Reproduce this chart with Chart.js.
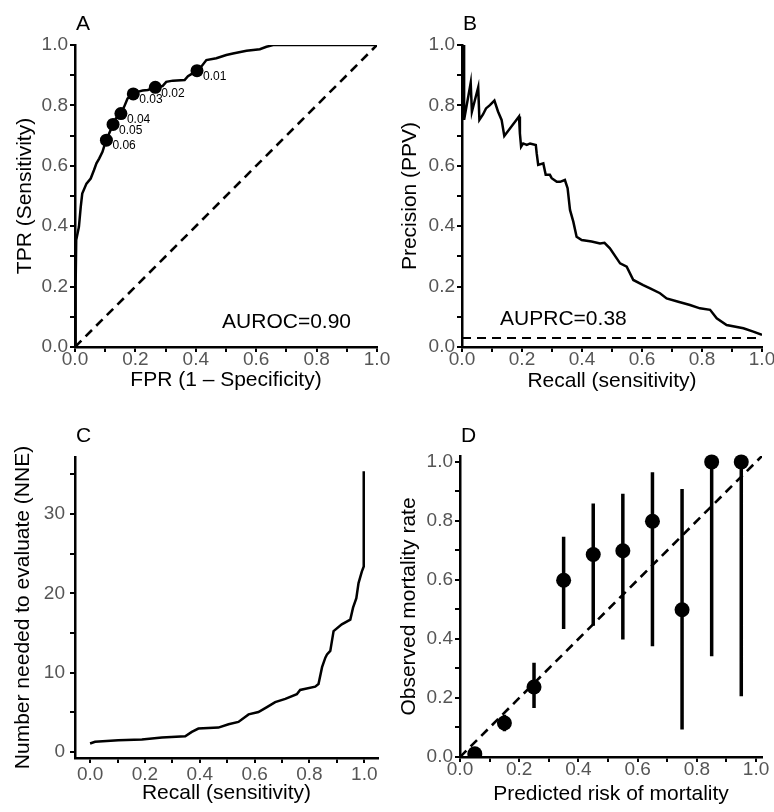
<!DOCTYPE html>
<html>
<head>
<meta charset="utf-8">
<script src="https://cdn.jsdelivr.net/npm/chart.js@4.4.1/dist/chart.umd.min.js"></script>
<style>
  body { margin: 0; background: #fff; }
  #wrap { position: relative; width: 774px; height: 812px; overflow: hidden; }
  canvas { position: absolute; }
</style>
</head>
<body>
<div id="wrap">
  <canvas id="rocChart" width="400" height="400" style="left:0;top:0"></canvas>
  <canvas id="prChart" width="387" height="400" style="left:387px;top:0"></canvas>
  <canvas id="nneChart" width="400" height="412" style="left:0;top:400px"></canvas>
  <canvas id="calChart" width="387" height="412" style="left:387px;top:400px"></canvas>
</div>
<script>
// Panel A - ROC curve
const rocFpr = [0, 0.002, 0.004, 0.013, 0.019, 0.024, 0.038, 0.052, 0.063, 0.071, 0.080, 0.091, 0.096, 0.104,
  0.113, 0.126, 0.135, 0.152, 0.163, 0.174, 0.193, 0.207, 0.224, 0.241, 0.266, 0.290, 0.302, 0.324, 0.363,
  0.374, 0.404, 0.418, 0.435, 0.468, 0.501, 0.523, 0.568, 0.612, 0.634, 0.656, 1.0];
const rocTpr = [0, 0.20, 0.354, 0.398, 0.464, 0.508, 0.541, 0.558, 0.586, 0.608, 0.624, 0.646, 0.663, 0.685,
  0.707, 0.737, 0.757, 0.773, 0.796, 0.823, 0.838, 0.845, 0.849, 0.851, 0.860, 0.864, 0.878, 0.882, 0.884,
  0.897, 0.915, 0.928, 0.950, 0.956, 0.967, 0.972, 0.981, 0.986, 0.994, 1.0, 1.0];
const cutFpr = [0.404, 0.266, 0.193, 0.152, 0.126, 0.104];
const cutTpr = [0.915, 0.860, 0.838, 0.773, 0.737, 0.685];
const cutLabels = ['0.01', '0.02', '0.03', '0.04', '0.05', '0.06'];
const aurocText = 'AUROC=0.90';

// Panel B - precision / recall
const prRecall = [0, 0.007, 0.007, 0.029, 0.033, 0.054, 0.058, 0.070, 0.080, 0.093, 0.108, 0.120, 0.132, 0.141,
  0.190, 0.193, 0.197, 0.204, 0.216, 0.227, 0.246, 0.249, 0.254, 0.271, 0.279, 0.293, 0.299, 0.316, 0.327,
  0.343, 0.352, 0.360, 0.371, 0.382, 0.399, 0.432, 0.460, 0.475, 0.493, 0.527, 0.549, 0.571, 0.604, 0.627,
  0.660, 0.682, 0.721, 0.760, 0.793, 0.827, 0.849, 0.882, 0.938, 0.971, 1.0];
const prPrecision = [1.0, 1.0, 0.752, 0.875, 0.779, 0.860, 0.752, 0.770, 0.790, 0.801, 0.816, 0.780, 0.752, 0.699,
  0.763, 0.707, 0.663, 0.674, 0.669, 0.674, 0.669, 0.641, 0.603, 0.608, 0.570, 0.570, 0.559, 0.547, 0.547,
  0.553, 0.526, 0.454, 0.415, 0.365, 0.354, 0.349, 0.343, 0.345, 0.327, 0.277, 0.266, 0.222, 0.205, 0.194,
  0.178, 0.161, 0.150, 0.139, 0.128, 0.123, 0.095, 0.073, 0.062, 0.051, 0.040];
const prevalence = 0.03;
const auprcText = 'AUPRC=0.38';

// Panel C - number needed to evaluate
const nneRecall = [0, 0.018, 0.103, 0.189, 0.262, 0.347, 0.371, 0.395, 0.468, 0.505, 0.541, 0.578, 0.614, 0.645,
  0.675, 0.712, 0.754, 0.766, 0.821, 0.833, 0.846, 0.858, 0.864, 0.876, 0.888, 0.918, 0.949, 0.959, 0.971,
  0.979, 0.991, 0.998, 0.998];
const nneValue = [1.08, 1.3, 1.5, 1.58, 1.83, 2.0, 2.54, 2.96, 3.08, 3.5, 3.8, 4.75, 5.04, 5.67,
  6.3, 6.7, 7.3, 7.83, 8.25, 8.58, 10.7, 11.9, 12.3, 12.75, 15.25, 16.1, 16.7, 18.2, 19.4,
  21.3, 22.75, 23.4, 35.4];

// Panel D - calibration
const calPred = [0.05, 0.15, 0.25, 0.35, 0.45, 0.55, 0.65, 0.75, 0.85, 0.95];
const calObs = [0.011, 0.115, 0.237, 0.599, 0.686, 0.699, 0.799, 0.499, 1.0, 1.0];
const calLow = [0.0, 0.087, 0.166, 0.434, 0.445, 0.398, 0.375, 0.093, 0.341, 0.206];
const calHigh = [0.03, 0.143, 0.319, 0.746, 0.859, 0.892, 0.965, 0.908, 1.0, 1.0];
const identity = [0, 1.02];

// tick marks and labels
const unitTicks = [0, 0.1, 0.2, 0.3, 0.4, 0.5, 0.6, 0.7, 0.8, 0.9, 1];
const unitLabels = [0, 0.2, 0.4, 0.6, 0.8, 1];
const nneTicks = [0, 5, 10, 15, 20, 25, 30, 35];
const nneLabels = [0, 10, 20, 30];

const FONT = "'Liberation Sans', Arial, Helvetica, sans-serif";
const pts = (xs, ys) => xs.map((x, i) => ({ x: x, y: ys[i] }));

function makeAxis(c) {
  return {
    type: 'linear',
    min: c.min,
    max: c.max,
    afterBuildTicks: s => { s.ticks = c.ticks.map(v => ({ value: v })); },
    afterFit: s => {
      if (c.horizontal) s.height = c.size; else s.width = c.size;
      s.paddingLeft = s.paddingRight = s.paddingTop = s.paddingBottom = 0;
    },
    ticks: {
      autoSkip: false,
      maxRotation: 0,
      padding: c.tickPad,
      color: '#555',
      font: { family: FONT, size: 19, lineHeight: 1 },
      callback: v => c.labels.includes(v) ? v.toFixed(c.digits) : ''
    },
    grid: { drawOnChartArea: false, drawTicks: true, tickLength: 5, color: '#000', lineWidth: 2 },
    border: { display: true, color: '#000', width: 2.5 },
    title: {
      display: !!c.title,
      text: c.title,
      color: '#000',
      font: { family: FONT, size: 21 },
      padding: c.horizontal ? { bottom: c.pad } : { top: c.pad }
    }
  };
}

// letters and in-plot notes
const panelText = {
  id: 'panelText',
  afterDraw(chart, args, o) {
    const ctx = chart.ctx;
    ctx.save();
    ctx.fillStyle = '#000';
    ctx.textBaseline = 'alphabetic';
    ctx.font = '21px ' + FONT;
    ctx.fillText(o.letter, chart.chartArea.left + 1, o.letterY);
    (o.notes || []).forEach(n => {
      ctx.font = n.size + 'px ' + FONT;
      ctx.textBaseline = n.baseline || 'alphabetic';
      ctx.fillText(n.text, chart.scales.x.getPixelForValue(n.x) + (n.dx || 0),
        chart.scales.y.getPixelForValue(n.y) + (n.dy || 0));
    });
    if (o.yTitle) {
      ctx.font = '21px ' + FONT;
      ctx.textAlign = 'center';
      ctx.textBaseline = 'middle';
      ctx.translate(o.yTitleX, (chart.chartArea.top + chart.chartArea.bottom) / 2);
      ctx.rotate(-Math.PI / 2);
      ctx.fillText(o.yTitle, 0, 0);
    }
    ctx.restore();
  }
};

function baseOptions(pad, x, y, text) {
  return {
    responsive: false,
    animation: false,
    layout: { padding: pad },
    scales: { x: x, y: y },
    plugins: { legend: { display: false }, tooltip: { enabled: false }, panelText: text }
  };
}

const lineDs = (data, extra) => Object.assign({
  data: data, showLine: true, pointRadius: 0, borderColor: '#000', borderWidth: 2.5, fill: false
}, extra || {});

// A
new Chart(document.getElementById('rocChart'), {
  type: 'scatter',
  data: {
    datasets: [
      { data: pts(cutFpr, cutTpr), pointRadius: 6.5, backgroundColor: '#000', borderWidth: 0, clip: false },
      lineDs(pts(rocFpr, rocTpr)),
      lineDs(pts([0, 1], [0, 1]), { borderDash: [9, 6], borderWidth: 2.6 })
    ]
  },
  options: baseOptions({ top: 45, right: 23 },
    makeAxis({ min: 0, max: 1, ticks: unitTicks, labels: unitLabels, digits: 1, horizontal: true, size: 53, tickPad: -2, title: 'FPR (1 – Specificity)', pad: 7.4 }),
    makeAxis({ min: 0, max: 1, ticks: unitTicks, labels: unitLabels, digits: 1, size: 75, tickPad: 2, title: 'TPR (Sensitivity)', pad: 12.4 }),
    {
      letter: 'A', letterY: 30,
      notes: cutLabels.map((t, i) => ({ text: t, x: cutFpr[i], y: cutTpr[i], dx: 6, dy: 6, size: 12, baseline: 'middle' }))
        .concat([{ text: aurocText, x: 0.487, y: 0.063, size: 21 }])
    }),
  plugins: [panelText]
});

// B
new Chart(document.getElementById('prChart'), {
  type: 'scatter',
  data: {
    datasets: [
      lineDs(pts(prRecall, prPrecision)),
      lineDs(pts([0, 1], [prevalence, prevalence]), { borderDash: [9, 6], borderWidth: 2 })
    ]
  },
  options: baseOptions({ top: 45, right: 12 },
    makeAxis({ min: 0, max: 1, ticks: unitTicks, labels: unitLabels, digits: 1, horizontal: true, size: 53, tickPad: -2, title: 'Recall (sensitivity)', pad: 6.4 }),
    makeAxis({ min: 0, max: 1, ticks: unitTicks, labels: unitLabels, digits: 1, size: 75, tickPad: 2, title: 'Precision (PPV)', pad: 10.4 }),
    { letter: 'B', letterY: 30, notes: [{ text: auprcText, x: 0.127, y: 0.073, size: 21 }] }),
  plugins: [panelText]
});

// C
new Chart(document.getElementById('nneChart'), {
  type: 'scatter',
  data: { datasets: [lineDs(pts(nneRecall, nneValue))] },
  options: baseOptions({ top: 57, right: 22 },
    makeAxis({ min: -0.055, max: 1.05, ticks: unitTicks, labels: unitLabels, digits: 1, horizontal: true, size: 54, tickPad: 2, title: 'Recall (sensitivity)', pad: 6.4 }),
    makeAxis({ min: -0.75, max: 37.2, ticks: nneTicks, labels: nneLabels, digits: 0, size: 75, tickPad: 5 }),
    { letter: 'C', letterY: 42, yTitle: 'Number needed to evaluate (NNE)', yTitleX: 23 }),
  plugins: [panelText]
});

// D
new Chart(document.getElementById('calChart'), {
  type: 'scatter',
  data: {
    datasets: [
      { data: pts(calPred, calObs), pointRadius: 7.5, backgroundColor: '#000', borderWidth: 0,
        clip: { left: false, top: false, right: false, bottom: 0 } },
      lineDs(calPred.flatMap((x, i) => [{ x: x, y: calLow[i] }, { x: x, y: calHigh[i] }, { x: x, y: null }]),
        { borderWidth: 3.5, spanGaps: false }),
      lineDs(pts(identity, identity), { borderDash: [9, 6], borderWidth: 2.6 })
    ]
  },
  options: baseOptions({ top: 56, right: 12 },
    makeAxis({ min: 0, max: 1.02, ticks: unitTicks, labels: unitLabels, digits: 1, horizontal: true, size: 55, tickPad: -2, title: 'Predicted risk of mortality', pad: 5.4 }),
    makeAxis({ min: 0, max: 1.02, ticks: unitTicks, labels: unitLabels, digits: 1, size: 73, tickPad: 2, title: 'Observed mortality rate', pad: 9.4 }),
    { letter: 'D', letterY: 42 }),
  plugins: [panelText]
});
</script>
</body>
</html>
